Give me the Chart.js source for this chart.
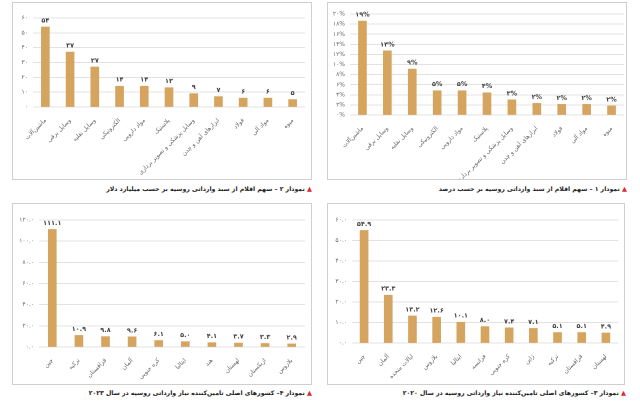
<!DOCTYPE html>
<html>
<head>
<meta charset="utf-8">
<script src="https://cdn.jsdelivr.net/npm/chart.js@4/dist/chart.umd.min.js"></script>
<style>
  body { margin: 0; background: #fff; width: 640px; height: 408px; position: relative; overflow: hidden; font-family: "DejaVu Sans", sans-serif; }
  .box { position: absolute; border: 1px solid #cfcfcf; box-sizing: border-box; }
  .box canvas { position: absolute; left: 0; top: 0; }
  .cap { position: absolute; direction: rtl; text-align: right; font-size: 6.2px; font-weight: bold; color: #222; white-space: nowrap; }
  .cap span { color: #e0282e; font-size: 6.5px; }
</style>
</head>
<body>

<div class="box" id="b2" style="left:12px;top:2px;width:300px;height:178px"><canvas id="c2"></canvas></div>
<div class="box" id="b1" style="left:327px;top:2px;width:300px;height:178px"><canvas id="c1"></canvas></div>
<div class="box" id="b4" style="left:12px;top:203px;width:300px;height:182px"><canvas id="c4"></canvas></div>
<div class="box" id="b3" style="left:327px;top:203px;width:298px;height:182px"><canvas id="c3"></canvas></div>

<div class="cap" style="right:328px;top:185px"><span>▲</span> نمودار ۲ – سهم اقلام از سبد وارداتی روسیه بر حسب میلیارد دلار</div>
<div class="cap" style="right:13px;top:185px"><span>▲</span> نمودار ۱ – سهم اقلام از سبد وارداتی روسیه بر حسب درصد</div>
<div class="cap" style="right:328px;top:389px"><span>▲</span> نمودار ۴– کشورهای اصلی تامین‌کننده نیاز وارداتی روسیه در سال ۲۰۲۳</div>
<div class="cap" style="right:14px;top:389px"><span>▲</span> نمودار ۳– کشورهای اصلی تامین‌کننده نیاز وارداتی روسیه در سال ۲۰۲۰</div>

<script>
"use strict";

// اقلام وارداتی (نمودار ۱ و ۲)
const itemLabels = ["ماشین‌آلات", "وسایل برقی", "وسایل نقلیه", "الکترونیکی", "مواد دارویی", "پلاستیک",
    "وسایل پزشکی و تصویر برداری", "ابزارهای آهن و چدن", "فولاد", "مواد آلی", "میوه"];
const sharePercent = [18.6, 12.7, 9.1, 4.8, 4.8, 4.4, 3.0, 2.3, 2.1, 2.1, 1.8];
const shareLabels = [19, 13, 9, 5, 5, 4, 3, 2, 2, 2, 2];
const itemBillion = [54, 37, 27, 14, 14, 13, 9, 7, 6, 6, 5];

// کشورهای تامین‌کننده ۲۰۲۰
const countries2020 = ["چین", "آلمان", "ایالات متحده", "بلاروس", "ایتالیا", "فرانسه", "کره جنوبی", "ژاپن", "ترکیه", "قزاقستان", "لهستان"];
const values2020 = [54.9, 23.3, 13.2, 12.6, 10.1, 8.0, 7.4, 7.1, 5.1, 5.1, 4.9];

// کشورهای تامین‌کننده ۲۰۲۳
const countries2023 = ["چین", "ترکیه", "قزاقستان", "آلمان", "کره جنوبی", "ایتالیا", "هند", "لهستان", "ازبکستان", "بلاروس"];
const values2023 = [111.1, 10.9, 9.8, 9.6, 6.1, 5.0, 4.1, 3.7, 3.3, 2.9];

const barColor = "#d5a45e";

function toFa(s) {
    return String(s).replace(/[0-9]/g, d => "۰۱۲۳۴۵۶۷۸۹"[d]);
}

// نوشتن مقدار بالای هر ستون
const valueLabels = {
    id: "valueLabels",
    afterDatasetsDraw(chart, args, opts) {
        const ctx = chart.ctx;
        const meta = chart.getDatasetMeta(0);
        ctx.save();
        ctx.font = "bold 6.5px 'DejaVu Sans'";
        ctx.fillStyle = "#444";
        ctx.textAlign = "center";
        ctx.textBaseline = "bottom";
        meta.data.forEach((bar, i) => {
            ctx.fillText(opts.text(i), bar.x, bar.y - 3);
        });
        ctx.restore();
    }
};

function makeChart(id, w, h, labels, data, yMax, yStep, tickFmt, labelFmt, area) {
    const el = document.getElementById(id);
    el.width = w;
    el.height = h;
    el.style.width = w + "px";
    el.style.height = h + "px";
    return new Chart(el, {
        type: "bar",
        data: {
            labels: labels,
            datasets: [{
                data: data,
                backgroundColor: barColor,
                barThickness: 8
            }]
        },
        plugins: [valueLabels],
        options: {
            responsive: false,
            animation: false,
            devicePixelRatio: 2,
            layout: { padding: { top: area.top, right: area.right, left: 0, bottom: 0 } },
            plugins: {
                legend: { display: false },
                tooltip: { enabled: false },
                valueLabels: { text: labelFmt }
            },
            scales: {
                x: {
                    grid: { display: false },
                    border: { display: false },
                    afterFit: s => { s.height = area.xh; },
                    ticks: {
                        autoSkip: false,
                        minRotation: 45,
                        maxRotation: 45,
                        padding: 2,
                        color: "#666",
                        font: { size: 6, family: "DejaVu Sans" }
                    }
                },
                y: {
                    min: 0,
                    max: yMax,
                    grid: { color: "#e2e2e2", drawTicks: false },
                    border: { display: false },
                    afterFit: s => { s.width = area.left; },
                    ticks: {
                        stepSize: yStep,
                        autoSkip: false,
                        padding: 5,
                        color: "#666",
                        font: { size: 6, family: "DejaVu Sans" },
                        callback: v => tickFmt(v)
                    }
                }
            }
        }
    });
}

// نمودار ۲ – میلیارد دلار
makeChart("c2", 298, 176, itemLabels, itemBillion, 60, 10,
    v => toFa(v), i => toFa(itemBillion[i]),
    { top: 15, right: 6, left: 20, xh: 72 });

// نمودار ۱ – درصد
makeChart("c1", 298, 176, itemLabels, sharePercent, 20, 2,
    v => toFa(v) + "%", i => toFa(shareLabels[i]) + "%",
    { top: 11, right: 2, left: 22, xh: 64 });

// نمودار ۴ – ۲۰۲۳
makeChart("c4", 298, 180, countries2023, values2023, 120, 20,
    v => toFa(v.toFixed(1)), i => toFa(values2023[i].toFixed(1)),
    { top: 16, right: 6, left: 26, xh: 37 });

// نمودار ۳ – ۲۰۲۰
makeChart("c3", 296, 180, countries2020, values2020, 60, 10,
    v => toFa(v.toFixed(1)), i => toFa(values2020[i].toFixed(1)),
    { top: 16, right: 6, left: 24, xh: 41 });
</script>
</body>
</html>
